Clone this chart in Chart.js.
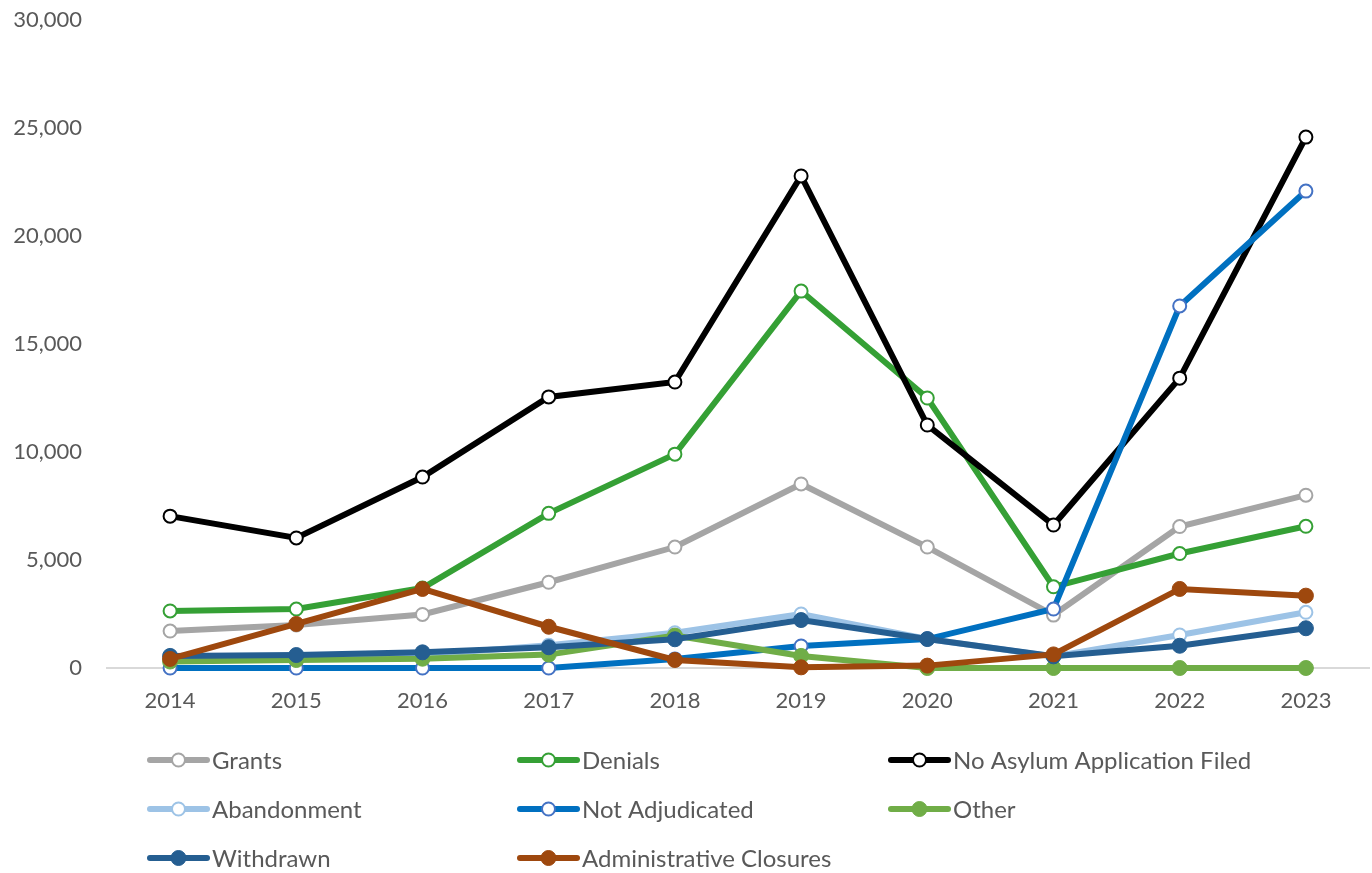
<!DOCTYPE html>
<html>
<head>
<meta charset="utf-8">
<script src="https://cdn.jsdelivr.net/npm/chart.js@4"></script>
<style>
  html, body { margin: 0; padding: 0; background: #ffffff; }
  #wrap { width: 1372px; height: 873px; position: relative; }
</style>
</head>
<body>
<div id="wrap"><canvas id="c" width="1372" height="873"></canvas></div>
<script>
const years = ['2014','2015','2016','2017','2018','2019','2020','2021','2022','2023'];
const grants        = [1710, 1990, 2480, 3970, 5600, 8520, 5600, 2450, 6550, 8000];
const denials       = [2640, 2730, 3700, 7160, 9900, 17450, 12500, 3760, 5300, 6560];
const noAsylum      = [7030, 6020, 8840, 12550, 13240, 22780, 11250, 6620, 13420, 24580];
const abandonment   = [450, 500, 600, 1050, 1630, 2500, 1340, 530, 1530, 2580];
const notAdjudicated= [0, 0, 0, 0, 420, 1020, 1340, 2730, 16760, 22080];
const other         = [300, 370, 430, 620, 1500, 560, 0, 0, 0, 0];
const withdrawn     = [560, 600, 725, 960, 1330, 2220, 1340, 540, 1030, 1840];
const adminClosures = [420, 2040, 3660, 1910, 370, 30, 110, 630, 3660, 3350];
const yTicks = [0, 5000, 10000, 15000, 20000, 25000, 30000];

const seriesNames = ['Grants','Denials','No Asylum Application Filed','Abandonment','Not Adjudicated','Other','Withdrawn','Administrative Closures'];
const seriesData = [grants, denials, noAsylum, abandonment, notAdjudicated, other, withdrawn, adminClosures];
const styles = [
  {line:'#A5A5A5', border:'#A5A5A5', fill:'#ffffff', open:true},
  {line:'#35A035', border:'#35A035', fill:'#ffffff', open:true},
  {line:'#000000', border:'#000000', fill:'#ffffff', open:true},
  {line:'#9DC3E6', border:'#9DC3E6', fill:'#ffffff', open:true},
  {line:'#0070C0', border:'#4472C4', fill:'#ffffff', open:true},
  {line:'#70AD47', border:'#70AD47', fill:'#70AD47', open:false},
  {line:'#255E91', border:'#255E91', fill:'#255E91', open:false},
  {line:'#9E480E', border:'#9E480E', fill:'#9E480E', open:false}
];

const FONT = 'Lato, "Noto Sans", sans-serif';
const TEXT = '#595959';

const datasets = seriesNames.map((name, i) => ({
  label: name,
  data: seriesData[i],
  borderColor: styles[i].line,
  backgroundColor: styles[i].line,
  borderWidth: 6,
  pointRadius: styles[i].open ? 6.5 : 7.5,
  pointBorderWidth: styles[i].open ? 2 : 1,
  pointBorderColor: styles[i].border,
  pointBackgroundColor: styles[i].fill,
  pointHoverRadius: 7,
  tension: 0,
  clip: false,
  order: seriesNames.length - i
}));

const legendPlugin = {
  id: 'gridLegend',
  afterDraw(chart) {
    const ctx = chart.ctx;
    const colX = [147, 517, 888];
    const rowY = [760, 809, 858];
    ctx.save();
    ctx.font = '24px ' + FONT;
    ctx.textBaseline = 'middle';
    ctx.textAlign = 'left';
    seriesNames.forEach((name, i) => {
      const x = colX[i % 3], y = rowY[Math.floor(i / 3)];
      const s = styles[i];
      ctx.strokeStyle = s.line;
      ctx.lineWidth = 6;
      ctx.lineCap = 'round';
      ctx.beginPath();
      ctx.moveTo(x + 3, y);
      ctx.lineTo(x + 60, y);
      ctx.stroke();
      ctx.beginPath();
      ctx.arc(x + 31.5, y, s.open ? 6.5 : 7.5, 0, Math.PI * 2);
      ctx.fillStyle = s.fill;
      ctx.fill();
      ctx.lineWidth = s.open ? 2 : 1;
      ctx.strokeStyle = s.border;
      ctx.stroke();
      ctx.fillStyle = TEXT;
      ctx.fillText(name, x + 65, y + 1);
    });
    ctx.restore();
  }
};

new Chart(document.getElementById('c'), {
  type: 'line',
  data: { labels: years, datasets },
  options: {
    responsive: false,
    animation: false,
    devicePixelRatio: 1,
    layout: { autoPadding: false, padding: { top: 20, right: 3, left: 0, bottom: 155 } },
    plugins: {
      legend: { display: false },
      tooltip: { enabled: false }
    },
    scales: {
      x: {
        offset: true,
        grid: { display: false, drawTicks: false },
        border: { display: true, color: '#D9D9D9', width: 2 },
        ticks: { color: TEXT, font: { family: FONT, size: 22 }, padding: 20, maxRotation: 0 },
        afterFit(scale) { scale.height = 50; scale.paddingLeft = 0; scale.paddingRight = 0; }
      },
      y: {
        min: 0, max: 30000,
        afterBuildTicks(scale) { scale.ticks = yTicks.map(v => ({ value: v })); },
        grid: { display: false, drawTicks: false },
        border: { display: false },
        ticks: {
          color: TEXT,
          font: { family: FONT, size: 22 },
          padding: 25,
          callback: v => Number(v).toLocaleString('en-US')
        },
        afterFit(scale) { scale.width = 107; scale.paddingTop = 0; scale.paddingBottom = 0; }
      }
    }
  },
  plugins: [legendPlugin]
});
</script>
</body>
</html>
